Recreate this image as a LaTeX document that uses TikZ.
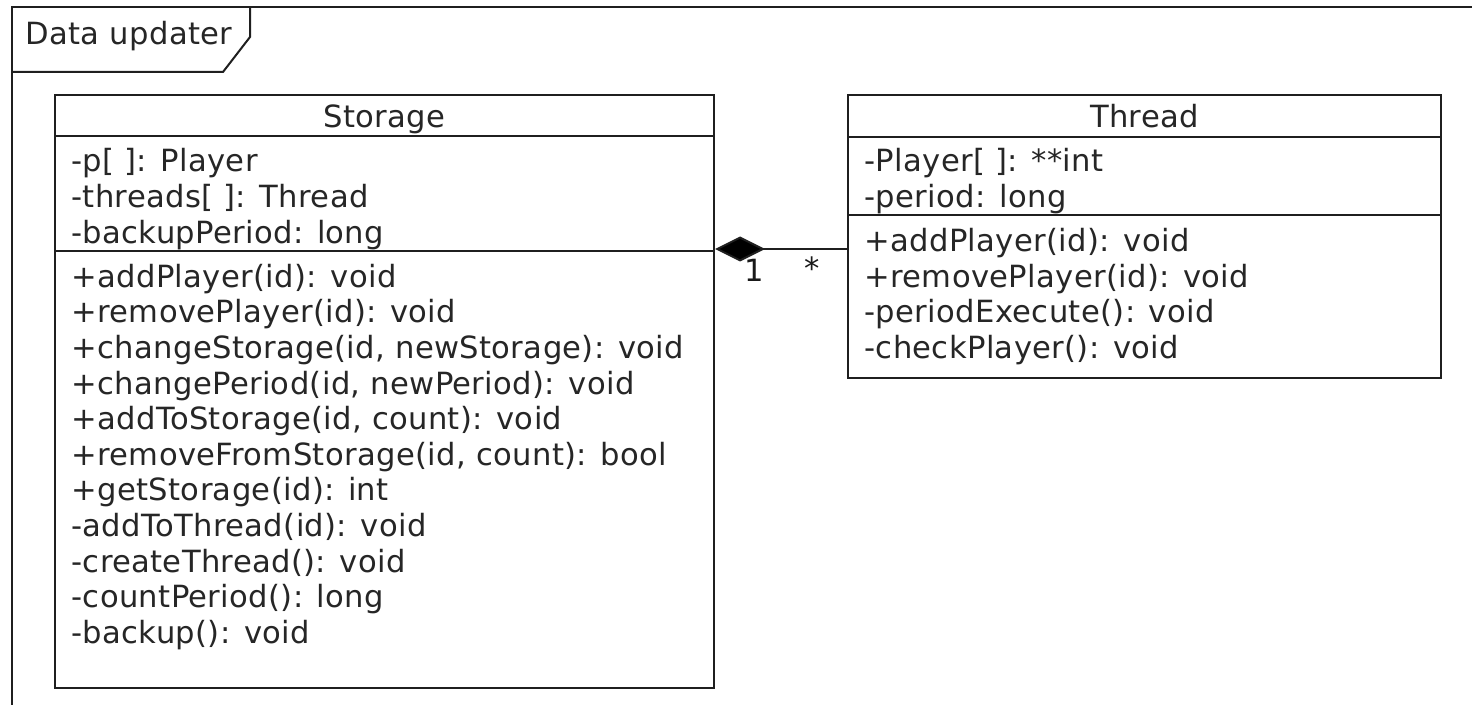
\documentclass[tikz,border=0pt]{standalone}
\usepackage{fontspec}
\setmainfont[LetterSpace=1.2]{DejaVu Sans}
\usetikzlibrary{arrows.meta,fit}

\tikzset{
  umlline/.style={draw=black!88, line width=1pt},
  classbox/.style={umlline, inner sep=0pt, fill=white},
  member/.style={anchor=base west, inner sep=0pt, text=black!85},
  classname/.style={anchor=base, inner sep=0pt, text=black!85},
  multiplicity/.style={anchor=center, inner sep=0pt, text=black!90},
  framelabel/.style={anchor=base west, inner sep=0pt, text=black!85},
  composition/.style={umlline, -{Diamond[length=25pt,width=12.5pt,fill=black,line join=miter]}},
}

\begin{document}
\begin{tikzpicture}[x=0.5pt, y=-0.5pt, font=\fontsize{15.3}{17.8}\selectfont]
  \useasboundingbox (0,0) rectangle (1472,705);

  % package frame with its name tab
  \draw[umlline] (12,710) -- (12,7) -- (1480,7);
  \draw[umlline, line join=miter] (12,72) -- (223,72) -- (250,37) -- (250,7);
  \node[framelabel] (framename) at (25,45) {Data updater};

  % class Storage
  \node[classbox, fit={(55,95) (714,688)}] (storage) {};
  \draw[umlline] (storage.west |- 0,136.5) -- (storage.east |- 0,136.5);
  \draw[umlline] (storage.west |- 0,251.5) -- (storage.east |- 0,251.5);
  \node[classname] (storagename) at (384.5,128) {Storage};
  \foreach \t [count=\i from 0] in {{-p[ ]: Player}, {-threads[ ]: Thread}, {-backupPeriod: long}}
    \node[member] (sa\i) at (71,172+35.8*\i) {\t};
  \foreach \t [count=\i from 0] in {
      {+addPlayer(id): void},
      {+removePlayer(id): void},
      {+changeStorage(id, newStorage): void},
      {+changePeriod(id, newPeriod): void},
      {+addToStorage(id, count): void},
      {+removeFromStorage(id, count): bool},
      {+getStorage(id): int},
      {-addToThread(id): void},
      {-createThread(): void},
      {-countPeriod(): long},
      {-backup(): void}}
    \node[member] (sm\i) at (71,287.2+35.6*\i) {\t};

  % class Thread
  \node[classbox, fit={(848,95) (1441,378.5)}] (thread) {};
  \draw[umlline] (thread.west |- 0,137) -- (thread.east |- 0,137);
  \draw[umlline] (thread.west |- 0,215.5) -- (thread.east |- 0,215.5);
  \node[classname] (threadname) at (1144.5,128) {Thread};
  \foreach \t [count=\i from 0] in {{-Player[ ]: **int}, {-period: long}}
    \node[member] (ta\i) at (864,172+35.8*\i) {\t};
  \foreach \t [count=\i from 0] in {
      {+addPlayer(id): void},
      {+removePlayer(id): void},
      {-periodExecute(): void},
      {-checkPlayer(): void}}
    \node[member] (tm\i) at (864,251.5+35.6*\i) {\t};

  % composition: Storage (1) owns Thread (*)
  \coordinate (link) at (0,249);
  \draw[composition] (thread.west |- link) -- (storage.east |- link);
  \node[multiplicity] (multone) at (754,270) {1};
  \node[multiplicity] (multmany) at (812,268) {*};
\end{tikzpicture}
\end{document}
